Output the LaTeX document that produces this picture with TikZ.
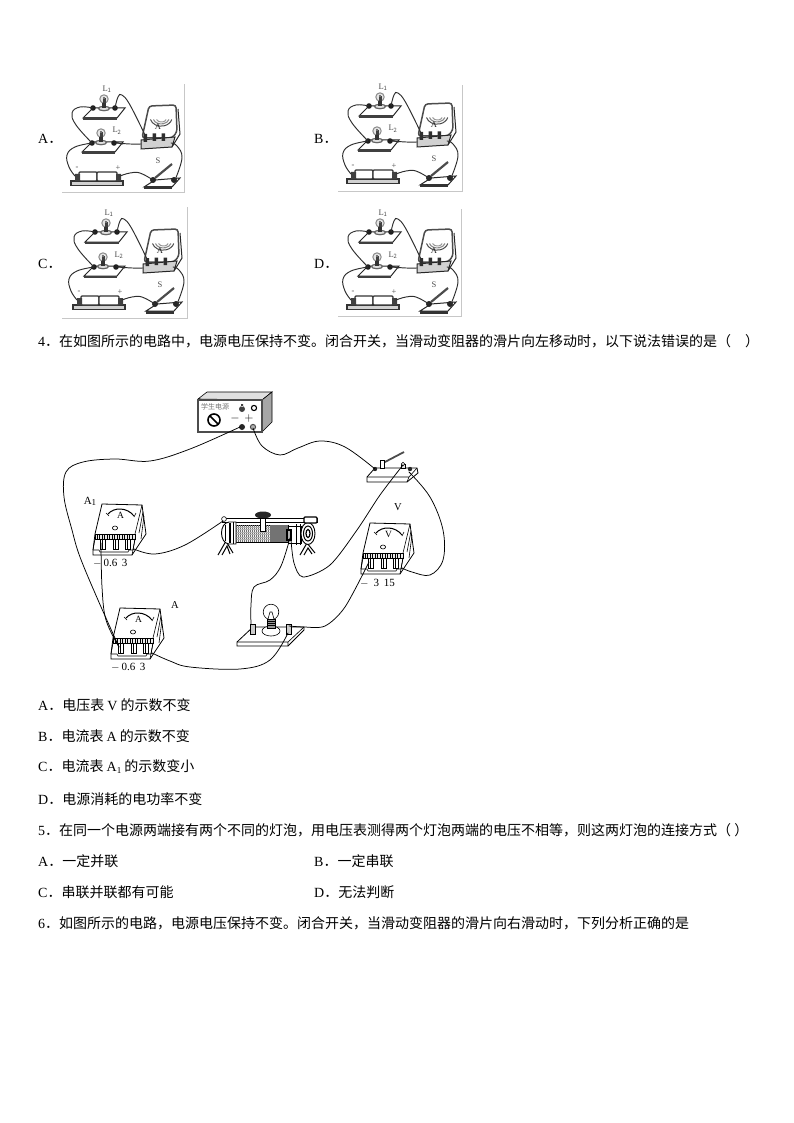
\documentclass[tikz,border=0pt]{standalone}
\usepackage{fontspec}
\setmainfont{Noto Sans CJK SC}
\newfontfamily\latinf{Liberation Serif}
\newcommand{\Lt}[1]{{\latinf #1}}
\tikzset{
 txt/.style={anchor=west,inner sep=0,font=\fontsize{14}{16}\selectfont},
 wire/.style={line width=0.75pt,black,line cap=round},
 swire/.style={line width=0.95pt,black!82,line cap=round},
 ink/.style={line width=0.6pt,black},
 sink/.style={line width=1pt,black!85},
 lab/.style={inner sep=0,font=\latinf\fontsize{10.5}{12}\selectfont},
 slab/.style={inner sep=0,text=black!70,font=\latinf\fontsize{8.5}{9}\selectfont},
 frameln/.style={line width=0.6pt,black!22},
}
% ---- small circuit of the answer options
\newcommand{\sbulb}[2]{%
 \draw[line width=1pt,black!45,fill=black!10] (#1,#2) circle (4.2);
 \fill[black!75] (#1-1.5,#2-1) rectangle (#1+1.5,#2+8);
 \fill[black!55] (#1-1.2,#2-2.4) rectangle (#1+1.2,#2);
 \draw[line width=1.2pt,black!60,fill=black!12] (#1,#2+9.5) ellipse (5.5 and 2.2);
 \fill[black!80] (#1-1.8,#2+4) rectangle (#1+1.8,#2+9);}
\newcommand{\smallckt}[3]{%
\begin{scope}[shift={(#2,#3)}]
 % L1 board
 \draw[sink,fill=white] (93,108)--(125,108)--(117,118)--(83,118)--cycle;
 \fill[black!75] (83,117.5) rectangle (117,120);
 \sbulb{104}{99}
 \fill[black!88] (93,108) circle (2.8) (115,108) circle (2.8);
 \coordinate (#1l1a) at (93,108); \coordinate (#1l1b) at (115,108);
 % L2 board
 \draw[sink,fill=white] (92,142)--(123,142)--(115,152)--(82,152)--cycle;
 \fill[black!75] (82,151.5) rectangle (115,154);
 \sbulb{101}{133}
 \fill[black!88] (92,143) circle (2.8) (114,143) circle (2.8);
 \draw[sink] (114,142)--(123,144);
 \coordinate (#1l2a) at (92,143); \coordinate (#1l2b) at (116,143);
 % ammeter
 \draw[line width=1.5pt,black!70,fill=white,rounded corners=3pt] (149,106)--(176,105)--(177,132)--(172,138)--(142,138)--cycle;
 \draw[sink] (178,109)--(180,134)--(172,147);
 \draw[line width=1pt,black!70] (150.5,119.5) arc (165:15:11 and 9);
 \draw[line width=1.1pt,black!45] (153.5,119.5) arc (165:15:8 and 6);
 \draw[line width=1pt,black!40] (156.5,119.5) arc (165:15:5 and 3.5);
 \node[slab,text=black!85] (#1aletter) at (158,126.5) {A};
 \draw[sink,fill=black!18] (141,140)--(175,137)--(172,147)--(141,149)--cycle;
 \fill[black!82] (143.5,134) rectangle (147,142) (152.5,133.5) rectangle (156,141) (161.5,133.5) rectangle (165,141);
 \coordinate (#1ma) at (145,135); \coordinate (#1mb) at (141,144); \coordinate (#1mc) at (171,143);
 % battery
 \draw[line width=1.1pt,black!80,fill=black!18] (71,181) rectangle (123,185.5);
 \draw[line width=1.2pt,black!80,fill=white,rounded corners=1pt] (79,172) rectangle (97,181);
 \draw[line width=1.2pt,black!80,fill=white,rounded corners=1pt] (97,172) rectangle (117,181);
 \fill[black!75] (75,174) rectangle (80,181) (116,174) rectangle (121,181);
 \coordinate (#1ba) at (75,176); \coordinate (#1bb) at (120,176);
 \node[slab] (#1minus) at (77,168) {-};
 \node[slab] (#1plus) at (118,168) {+};
 % switch
 \draw[sink,fill=white] (155,180)--(180,178)--(172,187)--(144,187)--cycle;
 \fill[black!80] (144,186.5) rectangle (172,189.5);
 \fill[black!85] (153,180) circle (3) (174,180) circle (3);
 \draw[line width=2.2pt,black!70] (155,178)--(172,164);
 \coordinate (#1sa) at (153,180); \coordinate (#1sb) at (175,180);
 \node[slab] (#1s) at (158,161) {S};
 \node[slab] (#1la) at (107,89) {L$_{\mathrm 1}$};
 \node[slab] (#1lb) at (117,131) {L$_{\mathrm 2}$};
 % wires
 \draw[swire] plot[smooth,tension=0.7] coordinates {(#1l1a) (80,107) (72,113) (76,125) (#1l2a)};
 \draw[swire] plot[smooth,tension=0.7] coordinates {(#1l1b) (118,97) (122,95) (130,105) (#1ma)};
 \draw[swire] plot[smooth,tension=0.7] coordinates {(#1l2b) (130,144) (#1mb)};
 \draw[swire] plot[smooth,tension=0.7] coordinates {(#1l2a) (75,147) (67,155) (69,167) (#1ba)};
 \draw[swire] plot[smooth,tension=0.7] coordinates {(#1bb) (130,173) (140,173) (#1sa)};
 \draw[swire] plot[smooth,tension=0.7] coordinates {(#1mc) (177,146) (182,158) (#1sb)};
\end{scope}}
% ---- large meter: #1 name, #2 x, #3 y, #4 letter
\newcommand{\bigmeter}[4]{%
\begin{scope}[shift={(#2,#3)}]
 \draw[ink,fill=white,line width=0.8pt] (0,0)--(40,1)--(44,30)--(30,51)--(-9,51)--(-9,46)--(-7,30)--cycle;
 \draw[ink] (33,30)--(40,1);
 \draw[ink] (37,29)--(41,8) (39,35)--(42,12);
 \draw[ink] (-7,30)--(33,30);
 \draw[ink,line width=1pt] (6,10) .. controls (12,3) and (25,3) .. (32,12);
 \draw[ink] (4,9)--(7,12) (32,13)--(34,9);
 \node[lab,font=\latinf\fontsize{9.5}{10}\selectfont] (#1letter) at (18.5,11.5) {#4};
 \draw[ink] (13,24) ellipse (2.6 and 2);
 \draw[ink,fill=black!8] (-7,30) rectangle (33,35);
 \foreach \q in {-5,-2.5,...,31}{\draw[line width=0.9pt] (\q,30.5)--(\q,35);}
 \draw[ink] (-7,35)--(-9,46) (33,35)--(31,46);
 \foreach \q in {-2,11,23}{\draw[ink,line width=0.8pt,fill=white] (\q,35) rectangle (\q+5,45);
   \draw[ink] (\q+2.5,35)--(\q+2.5,45);}
 \draw[ink] (-9,46)--(-3,46)--(-2,48)--(26,48)--(27,46)--(31,46)--(32,45);
 \draw[ink] (33,35)--(30,51);
 \coordinate (#1a) at (-1,39); \coordinate (#1b) at (12,39); \coordinate (#1c) at (32,45);
\end{scope}}
\begin{document}
\begin{tikzpicture}[x=1pt,y=-1pt]
\useasboundingbox (0,0) rectangle (794,1123);
% ---- options
\node[txt] (oa) at (38,139) {\Lt{A}．};
\node[txt] (ob) at (314,139) {\Lt{B}．};
\node[txt] (oc) at (38,264) {\Lt{C}．};
\node[txt] (od) at (314,264) {\Lt{D}．};
\smallckt{pa}{0}{0}
\smallckt{pb}{276}{-2}
\smallckt{pc}{2}{124}
\smallckt{pd}{276}{124}
\draw[frameln] (62,192)--(184,192)--(184,84);
\draw[frameln] (338,191)--(462,191)--(462,85);
\draw[frameln] (62,318)--(187,318)--(187,207);
\draw[frameln] (338,316)--(461,316)--(461,209);
% ---- texts
\node[txt] (q4) at (38,341) {\Lt{4}．在如图所示的电路中，电源电压保持不变。闭合开关，当滑动变阻器的滑片向左移动时，以下说法错误的是（\hspace{1em}）};
\node[txt] (a4) at (38,705) {\Lt{A}．电压表 \Lt{V} 的示数不变};
\node[txt] (b4) at (38,736) {\Lt{B}．电流表 \Lt{A} 的示数不变};
\node[txt] (c4) at (38,767) {\Lt{C}．电流表 \Lt{A}\raisebox{-2pt}{\Lt{\fontsize{9}{9}\selectfont 1}} 的示数变小};
\node[txt] (d4) at (38,799) {\Lt{D}．电源消耗的电功率不变};
\node[txt] (q5) at (38,830) {\Lt{5}．在同一个电源两端接有两个不同的灯泡，用电压表测得两个灯泡两端的电压不相等，则这两灯泡的连接方式（ ）};
\node[txt] (a5) at (38,861) {\Lt{A}．一定并联};
\node[txt] (b5) at (314,861) {\Lt{B}．一定串联};
\node[txt] (c5) at (38,892) {\Lt{C}．串联并联都有可能};
\node[txt] (d5) at (314,892) {\Lt{D}．无法判断};
\node[txt] (q6) at (38,923) {\Lt{6}．如图所示的电路，电源电压保持不变。闭合开关，当滑动变阻器的滑片向右滑动时，下列分析正确的是};
% ---- power supply
\draw[ink,fill=black!12] (198,399)--(207,392)--(272,392)--(262,400)--cycle;
\draw[ink,fill=black!35] (262,400)--(272,392)--(272,422)--(262,432)--cycle;
\draw[line width=1.1pt,black!70,fill=white] (198,400) rectangle (262,432);
\node[inner sep=0,text=black!55,font=\fontsize{7}{8}\selectfont] (psname) at (215,407) {学生电源};
\draw[line width=1.6pt] (214,420) circle (6);
\draw[line width=1.6pt] (210,416)--(218,424);
\fill[black!75] (242,409) circle (3) (241,404) rectangle (243,407);
\draw[line width=1.1pt] (254,408) circle (2.6);
\node[inner sep=0,font=\latinf\fontsize{12}{12}\selectfont] (psminus) at (235,418) {$-$};
\node[inner sep=0,font=\latinf\fontsize{12}{12}\selectfont] (psplus) at (249,418) {$+$};
\fill[black!85] (242,427) circle (3);
\draw[line width=1pt,black!70,fill=black!30] (253,427) circle (2.6);
\coordinate (pn) at (240,427); \coordinate (pp) at (253,428);
% ---- switch
\draw[ink,fill=white,line width=0.8pt] (375,468)--(417,468)--(418,473)--(407,482)--(367,482)--(367,477)--cycle;
\draw[ink] (367,477)--(409,477)--(417,468) (409,477)--(407,482);
\draw[line width=1.8pt,black!70] (383,463)--(404,452);
\draw[ink,fill=white] (380,468) rectangle (384,460);
\fill[black!85] (375,469) circle (2.2) (410,469) circle (2.2);
\draw[ink,fill=black!10] (401,468) rectangle (405,464);
\draw[ink,fill=white] (403,464) circle (1.8);
\coordinate (swl) at (375,469); \coordinate (swm) at (403,465); \coordinate (swr) at (409,472);
% ---- rheostat
\fill[black!85] (263,515) ellipse (8 and 3.5);
\draw[ink,line width=0.9pt,fill=white] (222,518) rectangle (317,522);
\draw[ink,fill=black!5] (235,525) rectangle (288,542);
\foreach \q in {236,238,...,286}{\draw[line width=0.7pt,black!55] (\q,525)--(\q,542);}
\foreach \q in {527,529.5,...,541}{\draw[line width=0.4pt,black!30] (235,\q)--(288,\q);}
\fill[black!55] (270,525) rectangle (288,542);
\draw[ink,fill=white] (260,518) rectangle (265,531);
% left end
\draw[ink,line width=1pt] (218,555)--(226,541)--(233,553) (222,555)--(227,546)--(230,554);
\draw[ink,fill=white,line width=0.9pt] (229,522) .. controls (219,523) and (219,543) .. (229,544) -- (236,544) -- (236,522) -- cycle;
\draw[line width=2pt] (229.5,523)--(229.5,543);
\draw[ink,line width=0.9pt] (225,525)--(225,541) (233,522)--(233,544);
% right end
\draw[ink,line width=1pt] (300,555)--(307,543)--(315,553) (304,555)--(308,548)--(312,554);
\draw[ink,fill=white,line width=0.9pt] (288,526) rectangle (301,543);
\draw[line width=1.2pt,fill=black!30] (287,530) rectangle (291,540);
\draw[ink,line width=1pt] (296,524)--(296,545) (300,524)--(300,545);
\draw[ink,fill=white,line width=0.9pt] (308,533.5) ellipse (7 and 11);
\draw[ink,line width=1pt] (308,533.5) ellipse (4.5 and 7.5);
\draw[line width=1.2pt] (308,533.5) ellipse (2 and 4);
\draw[ink,fill=white] (224,519) circle (2.4);
\draw[line width=1.3pt,fill=white,rounded corners=1pt] (304,517) rectangle (317,523);
\coordinate (rl) at (223,521); \coordinate (rm) at (290,538); \coordinate (rr) at (291,540);
% ---- meters
\bigmeter{mone}{102}{504}{A}
\bigmeter{mtwo}{120}{608}{A}
\bigmeter{mv}{370}{523}{V}
\node[lab,font=\latinf\fontsize{11}{12}\selectfont] (aonelab) at (90,501) {A\raisebox{-1pt}{\fontsize{9}{9}\selectfont 1}};
\node[lab] (alab) at (175,605) {A};
\node[lab] (vlab) at (398,507) {V};
\node[lab,anchor=west,font=\latinf\fontsize{11}{12}\selectfont] (sc1) at (93,563) {$-$\,0.6\, 3};
\node[lab,anchor=west,font=\latinf\fontsize{11}{12}\selectfont] (sc2) at (111,667) {$-$\,0.6\, 3};
\node[lab,anchor=west,font=\latinf\fontsize{11}{12}\selectfont] (sc3) at (360,583) {$-$\hspace{5pt}3\, 15};
% ---- bulb
\draw[ink,fill=white,line width=0.8pt] (253,627)--(304,627)--(304,630)--(288,646)--(237,646)--(237,642)--cycle;
\draw[ink] (237,642)--(288,642)--(304,627) (288,642)--(288,646);
\draw[ink,fill=white] (271,631) ellipse (9 and 5);
\draw[ink,fill=white] (271,612) circle (7.8);
\draw[ink,fill=black!40] (267,619) rectangle (275,628);
\foreach \q in {621,623,625}{\draw[ink] (267,\q)--(275,\q);}
\draw[ink] (268,619)--(270,612)--(272,612)--(274,619);
\draw[ink,fill=black!20] (250.5,624) rectangle (255.5,634);
\draw[ink,fill=black!20] (286,624) rectangle (291,634);
\coordinate (bl) at (251,624); \coordinate (br) at (289,626); \coordinate (bd) at (288,633);
% ---- wires
\draw[wire] plot[smooth,tension=0.6] coordinates {(pn) (190,449) (150,461) (115,459) (83,462) (66,472) (64,497) (72,530) (80,557) (98,600) (mtwoa)};
\draw[wire] plot[smooth,tension=0.6] coordinates {(pp) (262,446) (280,455) (298,448) (320,441) (345,447) (swl)};
\draw[wire] plot[smooth,tension=0.5] coordinates {(swm) (380,495) (357,530) (330,565) (303,577) (294,563) (rr)};
\draw[wire] plot[smooth,tension=0.6] coordinates {(swr) (430,497) (443,530) (443,560) (430,575) (412,572) (mvc)};
\draw[wire] plot[smooth,tension=0.6] coordinates {(monec) (155,554) (185,545) (rl)};
\draw[wire] plot[smooth,tension=0.6] coordinates {(rm) (281,566) (270,580) (254,587) (251,605) (bl)};
\draw[wire] plot[smooth,tension=0.5] coordinates {(br) (304,627) (325,626) (345,607) (mva)};
\draw[wire] plot[smooth,tension=0.6] coordinates {(monea) (102,587) (106,620) (mtwoa)};
\draw[wire] plot[smooth,tension=0.6] coordinates {(mtwoc) (170,661) (190,667) (240,669) (270,660) (bd)};
\end{tikzpicture}
\end{document}
